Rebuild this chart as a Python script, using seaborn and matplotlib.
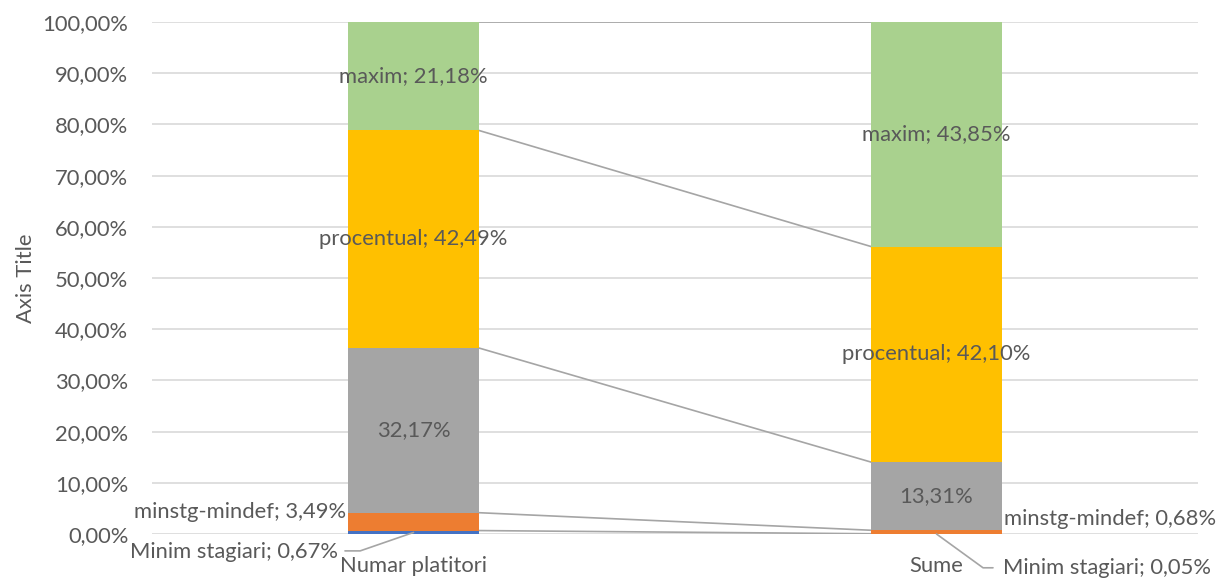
import numpy as np
import pandas as pd
import matplotlib
matplotlib.use("Agg")
import matplotlib.pyplot as plt
import seaborn as sns

# data (percent of each column)
categories = ["Numar platitori", "Sume"]
series_names = ["Minim stagiari", "minstg-mindef", "", "procentual", "maxim"]
minim_stagiari = [0.67, 0.05]
minstg_mindef = [3.49, 0.68]
gri = [32.17, 13.31]
procentual = [42.49, 42.10]
maxim = [21.18, 43.85]
y_ticks = [0, 10, 20, 30, 40, 50, 60, 70, 80, 90, 100]

colors = ["#4472C4", "#ED7D31", "#A5A5A5", "#FFC000", "#A9D18E"]
txt = "#595959"

sns.set_style("white")
plt.rcParams["font.family"] = ["Lato", "DejaVu Sans"]

values = np.array([minim_stagiari, minstg_mindef, gri, procentual, maxim])
cum = values.cumsum(axis=0)

fig = plt.figure(figsize=(12.29, 5.80), dpi=100)
ax = fig.add_axes([152 / 1229, 46 / 580, 1046 / 1229, 512 / 580])

# gridlines
for t in y_ticks:
    ax.axhline(t, color="#D9D9D9", lw=1.2, zorder=0)

# stacked bars: draw cumulative totals from top down
for i in range(len(values) - 1, -1, -1):
    df = pd.DataFrame({"cat": categories, "val": cum[i]})
    sns.barplot(data=df, x="cat", y="val", color=colors[i], width=0.25,
                saturation=1, ax=ax, zorder=2, linewidth=0)

# series lines between the columns
for i in range(len(values)):
    ax.plot([0.125, 0.875], [cum[i][0], cum[i][1]], color="#A5A5A5", lw=1.2, zorder=1)

def fmt(v):
    return f"{v:.2f}".replace(".", ",") + "%"

def lab(i, j):
    name = series_names[i]
    return f"{name}; {fmt(values[i][j])}" if name else fmt(values[i][j])

fs = 15.8
# labels centred in the bigger segments
for i in range(2, 5):
    for j in range(2):
        yc = cum[i][j] - values[i][j] / 2
        ax.text(j, yc, lab(i, j), ha="center", va="center", fontsize=fs, color=txt, zorder=3)

# small segments, first column
ax.text(-0.128, 4.3, lab(1, 0), ha="right", va="center", fontsize=fs, color=txt, zorder=3)
ax.text(-0.145, -3.5, lab(0, 0), ha="right", va="center", fontsize=fs, color=txt,
        zorder=3, clip_on=False)
ax.plot([0, -0.102, -0.131], [0.3, -3.3, -3.3], color="#A5A5A5", lw=1.2, clip_on=False, zorder=3)

# small segments, second column
ax.text(1.13, 2.9, lab(1, 1), ha="left", va="center", fontsize=fs, color=txt, zorder=3)
ax.text(1.127, -6.6, lab(0, 1), ha="left", va="center", fontsize=fs, color=txt,
        zorder=3, clip_on=False)
ax.plot([1.0, 1.089, 1.108], [0.0, -6.6, -6.6], color="#A5A5A5", lw=1.2, clip_on=False, zorder=3)

ax.set_xlim(-0.5, 1.5)
ax.set_ylim(0, 100)
ax.set_yticks(y_ticks)
ax.set_yticklabels([fmt(t) for t in y_ticks])
ax.set_xlabel("")
ax.set_ylabel("Axis Title", fontsize=fs, color=txt, labelpad=5)
ax.tick_params(axis="both", length=0, labelsize=fs, labelcolor=txt)
ax.tick_params(axis="y", pad=17)
ax.tick_params(axis="x", pad=16)
for s in ax.spines.values():
    s.set_visible(False)

fig.savefig("out.png", dpi=100)
